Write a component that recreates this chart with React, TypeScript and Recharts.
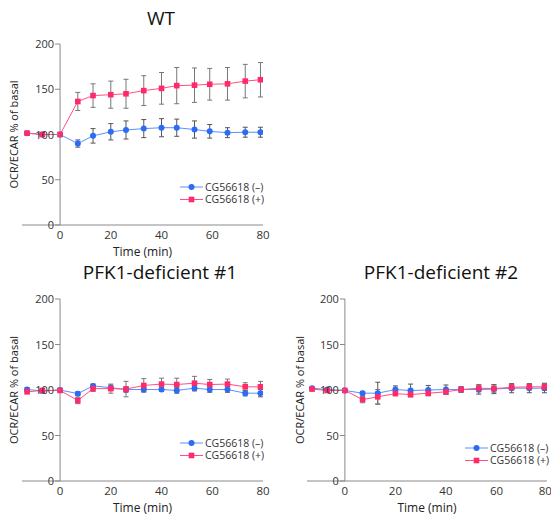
import React from 'react'
import { LineChart, Line, XAxis, YAxis, ErrorBar, ReferenceLine } from 'recharts'

const TIMES = [-13, -7, 0, 7, 13, 20, 26, 33, 40, 46, 53, 59, 66, 73, 79]
const X_TICKS = [0, 20, 40, 60, 80]
const Y_TICKS = [0, 50, 100, 150, 200]

const WT_MINUS = [101.5, 100, 100, 90, 98.5, 103, 105, 106.5, 107.5, 107.5, 105.5, 103.5, 102, 102.5, 102.5]
const WT_MINUS_ERR = [0, 0, 0, 4, 8, 9, 10, 10, 10, 9.5, 9.5, 7.5, 5.5, 5.5, 5.5]
const WT_PLUS = [101.5, 100, 100, 136.5, 143, 144, 145, 148.5, 151, 154, 154.5, 155.5, 156, 159, 160.5]
const WT_PLUS_ERR = [0, 0, 0, 10, 13, 15, 16, 16.5, 17.5, 20, 19, 17.5, 18, 18.5, 19]

const P1_MINUS = [100.5, 99, 100, 96, 104.5, 102.5, 100.5, 100.5, 100.5, 99.5, 102, 100.5, 100.5, 96.5, 96.5]
const P1_MINUS_ERR = [2, 0, 0, 2, 2, 3, 3, 2, 2, 3, 3, 3, 3, 3, 4]
const P1_PLUS = [98, 99.5, 99.5, 88.5, 101.5, 101.5, 101, 105, 106.5, 106, 107.5, 106, 106.5, 103.5, 103.5]
const P1_PLUS_ERR = [0, 0, 0, 3.5, 3, 5, 8.5, 7.5, 6.5, 7, 7.5, 5.5, 5.5, 4.5, 6]

const P2_MINUS = [102, 100.5, 99.5, 96.5, 96.5, 100.5, 99.5, 100, 100.5, 100.5, 100.5, 101, 102, 102, 102]
const P2_MINUS_ERR = [0, 0, 0, 2, 12, 4, 7, 5, 5, 3, 5, 5, 5, 5, 5]
const P2_PLUS = [101, 99.5, 99.5, 89.5, 92.5, 96, 95, 96.5, 98, 100.5, 102, 101.5, 103, 103.5, 103.5]
const P2_PLUS_ERR = [0, 0, 0, 3.5, 8, 2, 2, 3, 3, 3, 4, 4, 3, 3, 4]

const LEGEND_NAMES = ['CG56618 (\u2013)', 'CG56618 (+)']

const BLUE = '#2a6cf6'
const BLUE_LINE = '#5a8fff'
const RED = '#ff2a6a'
const RED_LINE = '#ff4f84'
const AXIS = '#8a8a8a'
const FONT = '"Open Sans", "Noto Sans", sans-serif'

const rows = (minus: number[], minusErr: number[], plus: number[], plusErr: number[]) =>
  TIMES.map((t, i) => ({ t, minus: minus[i], minusErr: minusErr[i], plus: plus[i], plusErr: plusErr[i] }))

const Square = (p: any) => {
  if (p.cx == null) return <g key={p.key} />
  return <rect key={p.key} x={p.cx - 2.8} y={p.cy - 2.8} width={5.6} height={5.6} fill={RED} />
}

type PanelProps = {
  title: string
  data: any[]
  left: number
  top: number
  width: number
  height: number
  margin: { top: number; right: number; left: number; bottom: number }
  labelX: number
  legendX: number
  legendY: number
  titleX: number
  titleY: number
}

function Panel(p: PanelProps) {
  const plotW = p.width - p.margin.left - p.margin.right
  const plotH = p.height - p.margin.top - 35
  const axisX = p.margin.left + (15 / 95) * plotW
  const midY = p.margin.top + plotH / 2

  const YTick = (t: any) => (
    <g key={t.index}>
      <line x1={axisX - 5} x2={axisX} y1={t.y} y2={t.y} stroke={AXIS} />
      <text x={axisX - 6} y={t.y} dy={4} textAnchor="end" fontSize={11} fill="#333" fontFamily={FONT}>
        {t.payload.value}
      </text>
    </g>
  )

  return (
    <div style={{ position: 'absolute', left: p.left, top: p.top, width: p.width, height: p.height }}>
      <div
        style={{
          position: 'absolute',
          left: p.titleX - 120,
          width: 240,
          top: p.titleY - 13,
          textAlign: 'center',
          fontFamily: FONT,
          fontSize: 19,
          color: '#111',
          lineHeight: '26px',
          whiteSpace: 'nowrap',
        }}
      >
        {p.title}
      </div>
      <LineChart
        width={p.width}
        height={p.height}
        data={p.data}
        margin={{ top: p.margin.top, right: p.margin.right, left: 0, bottom: 0 }}
        style={{ position: 'absolute', left: 0, top: 0, overflow: 'visible' }}
      >
        <XAxis
          dataKey="t"
          type="number"
          domain={[-15, 80]}
          ticks={X_TICKS}
          allowDataOverflow
          height={35}
          stroke={AXIS}
          tickLine={false}
          tick={{ fontSize: 11.5, fill: '#333', fontFamily: FONT }}
          tickMargin={0}
          label={{ value: 'Time (min)', position: 'insideBottom', offset: 4, fontSize: 12, fill: '#222', fontFamily: FONT }}
        />
        <YAxis
          type="number"
          domain={[0, 200]}
          ticks={Y_TICKS}
          width={p.margin.left}
          axisLine={false}
          tickLine={false}
          tick={YTick}
        />
        <ReferenceLine
          segment={[
            { x: 0, y: 0 },
            { x: 0, y: 200 },
          ]}
          stroke={AXIS}
        />
        <Line
          dataKey="minus"
          stroke={BLUE_LINE}
          strokeWidth={1}
          dot={{ r: 3, fill: BLUE, stroke: 'none' }}
          isAnimationActive={false}
        >
          <ErrorBar dataKey="minusErr" width={2.5} stroke="#555" strokeWidth={1} />
        </Line>
        <Line dataKey="plus" stroke={RED_LINE} strokeWidth={1} dot={Square} isAnimationActive={false}>
          <ErrorBar dataKey="plusErr" width={2.5} stroke="#777" strokeWidth={1} />
        </Line>
      </LineChart>
      <svg
        width={p.width}
        height={p.height}
        style={{ position: 'absolute', left: 0, top: 0, pointerEvents: 'none', overflow: 'visible' }}
      >
        <text
          x={p.labelX}
          y={midY}
          transform={`rotate(-90, ${p.labelX}, ${midY})`}
          textAnchor="middle"
          dy={4}
          fontSize={11}
          fill="#222"
          fontFamily={FONT}
        >
          OCR/ECAR % of basal
        </text>
        {[0, 1].map((i) => (
          <g key={i} transform={`translate(${p.legendX}, ${p.legendY + i * 12.5})`}>
            <line x1={0} x2={23} y1={0} y2={0} stroke={i === 0 ? BLUE_LINE : RED_LINE} />
            {i === 0 ? (
              <circle cx={11.5} cy={0} r={3} fill={BLUE} />
            ) : (
              <rect x={8.7} y={-2.8} width={5.6} height={5.6} fill={RED} />
            )}
            <text x={25} y={0} dy={3.5} fontSize={10.5} fill="#333" fontFamily={FONT}>
              {LEGEND_NAMES[i]}
            </text>
          </g>
        ))}
      </svg>
    </div>
  )
}

export default function App() {
  return (
    <div style={{ position: 'absolute', left: 0, top: 0, width: 551, height: 516, background: '#fff' }}>
      <Panel
        title="WT"
        data={rows(WT_MINUS, WT_MINUS_ERR, WT_PLUS, WT_PLUS_ERR)}
        left={0}
        top={0}
        width={280}
        height={260}
        margin={{ top: 44, right: 17, left: 22, bottom: 0 }}
        labelX={14}
        legendX={180}
        legendY={187}
        titleX={161}
        titleY={18}
      />
      <Panel
        title="PFK1-deficient #1"
        data={rows(P1_MINUS, P1_MINUS_ERR, P1_PLUS, P1_PLUS_ERR)}
        left={0}
        top={260}
        width={280}
        height={256}
        margin={{ top: 39, right: 17, left: 22, bottom: 0 }}
        labelX={14}
        legendX={180}
        legendY={183}
        titleX={160}
        titleY={12}
      />
      <Panel
        title="PFK1-deficient #2"
        data={rows(P2_MINUS, P2_MINUS_ERR, P2_PLUS, P2_PLUS_ERR)}
        left={280}
        top={260}
        width={271}
        height={256}
        margin={{ top: 39, right: 4, left: 27, bottom: 0 }}
        labelX={20}
        legendX={185}
        legendY={188}
        titleX={161}
        titleY={12}
      />
    </div>
  )
}
